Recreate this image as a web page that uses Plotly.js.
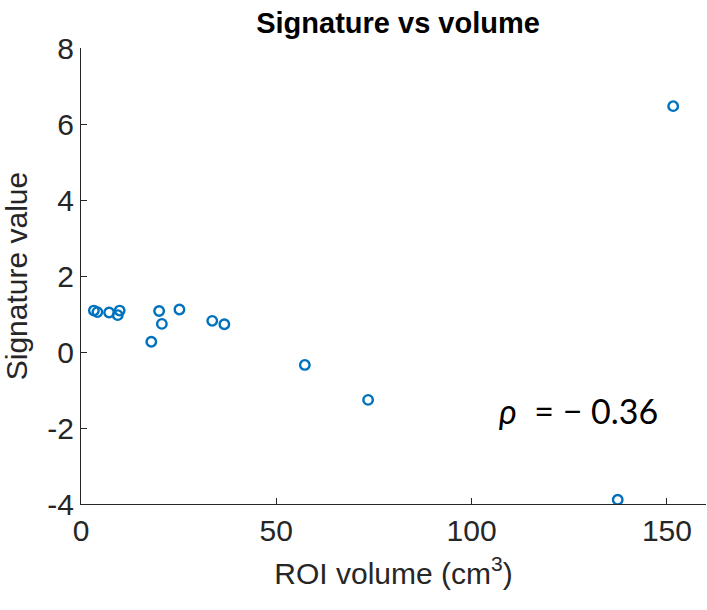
<!DOCTYPE html>
<html>
<head>
<meta charset="utf-8">
<script src="https://cdn.plot.ly/plotly-3.0.1.min.js"></script>
<style>
html,body{margin:0;padding:0;background:#fff;}
#chart{width:707px;height:610px;}
</style>
</head>
<body>
<div id="chart"></div>
<script>
// ROI volume (cm^3)
const roiVolume = [3.3, 4.2, 7.2, 9.4, 9.9, 20.0, 25.2, 20.7, 18.0, 33.6, 36.7, 57.3, 73.5, 137.4, 151.6];
// Signature value
const signatureValue = [1.09, 1.05, 1.04, 0.97, 1.09, 1.08, 1.12, 0.74, 0.27, 0.82, 0.73, -0.34, -1.26, -3.89, 6.47];
const xTicks = [0, 50, 100, 150];
const yTicks = [-4, -2, 0, 2, 4, 6, 8];
const rhoText = "<i>ρ</i>  = − 0.36";

const axisColor = '#262626';
const fontFamily = 'Liberation Sans, Arial, sans-serif';
const tickFont = {family: fontFamily, size: 30, color: axisColor};

const trace = {
  x: roiVolume,
  y: signatureValue,
  type: 'scatter',
  mode: 'markers',
  marker: {symbol: 'circle-open', size: 9.5, color: '#0072BD', line: {width: 2.4, color: '#0072BD'}},
  hoverinfo: 'x+y'
};

const layout = {
  width: 707, height: 610,
  margin: {l: 81, r: 1, t: 48, b: 106},
  paper_bgcolor: '#fff', plot_bgcolor: '#fff',
  showlegend: false,
  title: {text: '<b>Signature vs volume</b>', x: 0.563, xanchor: 'center', y: 0.963, yanchor: 'middle',
          font: {family: fontFamily, size: 29, color: '#000'}},
  xaxis: {
    range: [0, 160], tickvals: xTicks, ticktext: xTicks.map(String),
    ticks: 'inside', ticklen: 6, tickwidth: 1, tickcolor: axisColor,
    showline: true, linecolor: axisColor, linewidth: 1, mirror: false,
    showgrid: false, zeroline: false, tickfont: tickFont,
    title: {text: 'ROI volume (cm<sup>3</sup>)', font: {family: fontFamily, size: 30, color: axisColor}, standoff: 16}
  },
  yaxis: {
    range: [-4, 8], tickvals: yTicks, ticktext: yTicks.map(String),
    ticks: 'inside', ticklen: 6, tickwidth: 1, tickcolor: axisColor,
    showline: true, linecolor: axisColor, linewidth: 1, mirror: false,
    showgrid: false, zeroline: false, tickfont: tickFont,
    title: {text: 'Signature value', font: {family: fontFamily, size: 30, color: axisColor}, standoff: 10}
  },
  annotations: [{
    x: 106.5, y: -1.55, xref: 'x', yref: 'y', xanchor: 'left', yanchor: 'middle',
    text: rhoText, showarrow: false,
    font: {family: 'Lato, Open Sans, sans-serif', size: 34, color: '#000'}
  }]
};

Plotly.newPlot('chart', [trace], layout, {displayModeBar: false, staticPlot: true});
</script>
</body>
</html>
